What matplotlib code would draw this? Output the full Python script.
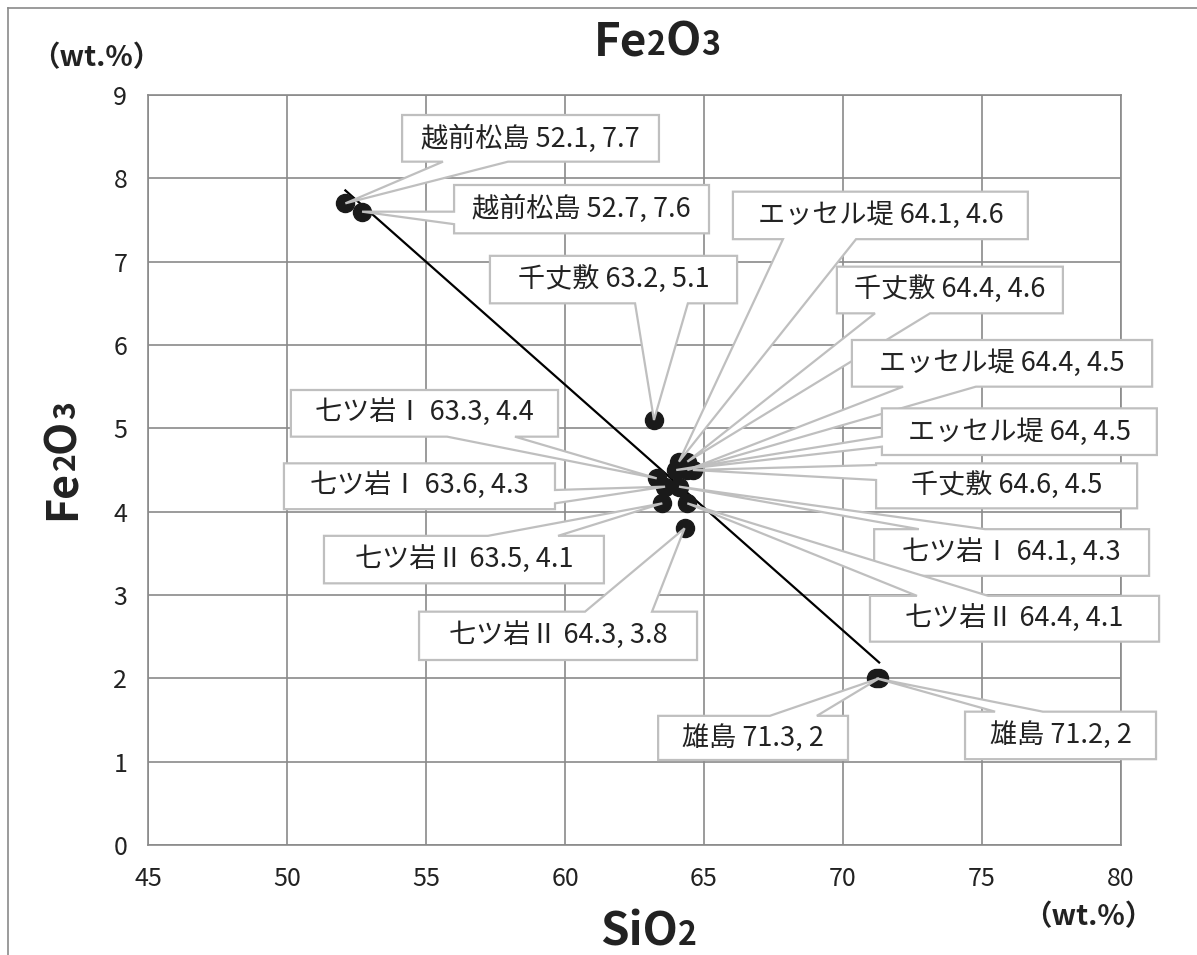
import numpy as np
import matplotlib
matplotlib.use('Agg')
import matplotlib.pyplot as plt
from matplotlib.patches import Polygon
from matplotlib.lines import Line2D
from matplotlib.transforms import IdentityTransform

plt.rcParams['font.family'] = ['Noto Sans CJK JP', 'DejaVu Sans']

# データ
names = ['越前松島', '越前松島', '千丈敷', 'エッセル堤', '千丈敷', 'エッセル堤', 'エッセル堤', '千丈敷',
         '七ツ岩Ⅰ', '七ツ岩Ⅰ', '七ツ岩Ⅱ', '七ツ岩Ⅰ', '七ツ岩Ⅱ', '七ツ岩Ⅱ', '雄島', '雄島']
sio2 = [52.1, 52.7, 63.2, 64.1, 64.4, 64.4, 64.0, 64.6,
        63.3, 63.6, 63.5, 64.1, 64.4, 64.3, 71.3, 71.2]
fe2o3 = [7.7, 7.6, 5.1, 4.6, 4.6, 4.5, 4.5, 4.5,
         4.4, 4.3, 4.1, 4.3, 4.1, 3.8, 2.0, 2.0]

x_ticks = list(range(45, 81, 5))
y_ticks = list(range(0, 10))

# 吹き出しの配置 (x0, x1, y0, y1, 辺, 根元a, 根元b)
boxes = [
    (54.14, 63.38, 8.20, 8.76, 'b', 55.61, 57.95),
    (56.01, 65.18, 7.34, 7.92, 'l', 7.45, 7.60),
    (57.30, 66.19, 6.50, 7.07, 'b', 62.52, 64.42),
    (66.04, 76.65, 7.27, 7.84, 'b', 67.84, 70.47),
    (69.78, 77.91, 6.38, 6.94, 'b', 71.15, 73.13),
    (70.32, 81.12, 5.50, 6.06, 'b', 72.16, 74.78),
    (71.40, 81.29, 4.68, 5.24, 'l', 4.78, 4.90),
    (71.19, 80.58, 4.04, 4.58, 'l', 4.38, 4.56),
    (50.14, 59.75, 4.90, 5.46, 'b', 55.76, 58.20),
    (49.89, 59.64, 4.03, 4.58, 'r', 4.10, 4.26),
    (51.33, 61.40, 3.14, 3.71, 't', 57.23, 59.75),
    (71.12, 81.01, 3.23, 3.79, 't', 72.73, 75.11),
    (70.97, 81.37, 2.44, 2.99, 't', 72.66, 75.22),
    (54.75, 64.75, 2.22, 2.80, 't', 60.72, 63.13),
    (63.35, 70.18, 1.02, 1.55, 't', 67.37, 69.06),
    (74.39, 81.26, 1.03, 1.60, 't', 75.47, 77.19),
]

W, H = 1197, 955
fig = plt.figure(figsize=(W / 100, H / 100), dpi=100)
ax = fig.add_axes([148 / W, 1 - 845 / H, (1121 - 148) / W, (845 - 95) / H])

ax.set_xlim(45, 80)
ax.set_ylim(0, 9)
ax.set_xticks(x_ticks)
ax.set_yticks(y_ticks)
ax.grid(color='#8a8a8a', lw=1.2)
ax.set_axisbelow(True)
ax.tick_params(length=0, labelsize=18, pad=15, colors='#222222')
for sp in ax.spines.values():
    sp.set_color('#8a8a8a')
    sp.set_linewidth(1.2)

# 近似直線
coef = np.polyfit(sio2, fe2o3, 1)
xl = np.array([min(sio2), max(sio2)])
ax.plot(xl, np.polyval(coef, xl), color='black', lw=1.6, zorder=2.5)

ax.plot(sio2, fe2o3, 'o', color='#1a1a1a', ms=13, zorder=3)

# 吹き出し
for i, (nm, x, y, bx) in enumerate(zip(names, sio2, fe2o3, boxes)):
    x0, x1, y0, y1, side, a, b = bx
    if side == 'b':
        pts = [(x0, y1), (x1, y1), (x1, y0), (b, y0), (x, y), (a, y0), (x0, y0)]
    elif side == 't':
        pts = [(x0, y1), (a, y1), (x, y), (b, y1), (x1, y1), (x1, y0), (x0, y0)]
    elif side == 'l':
        pts = [(x0, y1), (x1, y1), (x1, y0), (x0, y0), (x0, a), (x, y), (x0, b)]
    else:
        pts = [(x0, y1), (x1, y1), (x1, b), (x, y), (x1, a), (x1, y0), (x0, y0)]
    z = 4 + i * 0.01
    ax.add_patch(Polygon(pts, closed=True, fc='white', ec='#bfbfbf', lw=1.6,
                         clip_on=False, zorder=z, joinstyle='miter'))
    ax.text((x0 + x1) / 2, (y0 + y1) / 2, f'{nm} {x:g}, {y:g}', ha='center', va='center',
            fontsize=19.5, color='#222222', zorder=z + 0.005, clip_on=False)


def mixed(x, y, pieces, size, rotation=0):
    r = fig.canvas.get_renderer()
    arts = []
    for s, k in pieces:
        t = fig.text(0, 0, s, fontsize=size * k, fontweight='bold', color='#222222',
                     ha='left', va='baseline', rotation=rotation, rotation_mode='anchor',
                     transform=IdentityTransform())
        arts.append(t)
    ws = []
    for t in arts:
        bb = t.get_window_extent(r)
        ws.append(bb.height if rotation else bb.width)
    pos = -sum(ws) / 2
    for t, w in zip(arts, ws):
        if rotation:
            t.set_position((x, y + pos))
        else:
            t.set_position((x + pos, y))
        pos += w


fe_parts = [('Fe', 1.0), ('2', 0.7), ('O', 1.0), ('3', 0.7)]
mixed(657, H - 55, fe_parts, 33)
mixed(648, H - 945, [('SiO', 1.0), ('2', 0.7)], 33)
mixed(75, H - 461, fe_parts, 31, rotation=90)

fig.text(96 / W, 1 - 58 / H, '（wt.%）', ha='center', va='center', fontsize=20.5,
         fontweight='bold', color='#222222')
fig.text(1088 / W, 1 - 917 / H, '（wt.%）', ha='center', va='center', fontsize=20.5,
         fontweight='bold', color='#222222')

# 外枠
fig.add_artist(Line2D([8 / W, 8 / W], [0, 1 - 8 / H], color='#8a8a8a', lw=1.2))
fig.add_artist(Line2D([8 / W, 1], [1 - 8 / H, 1 - 8 / H], color='#8a8a8a', lw=1.2))

fig.savefig('out.png', dpi=100)
